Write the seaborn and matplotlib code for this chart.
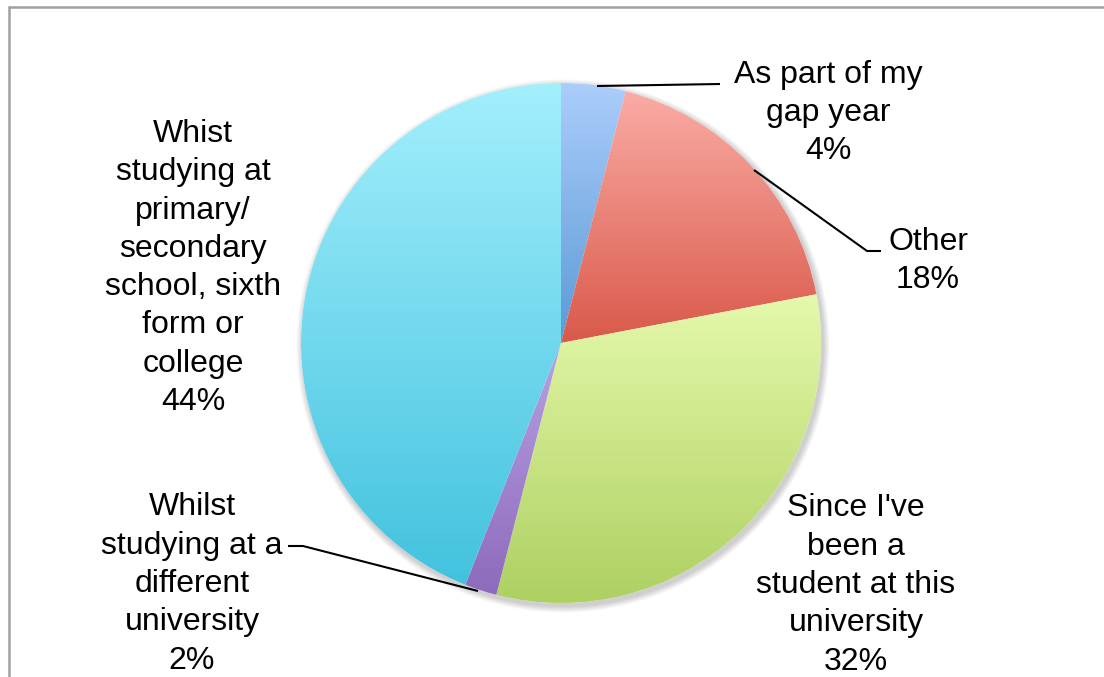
import numpy as np
import matplotlib
matplotlib.use("Agg")
import matplotlib.pyplot as plt
from matplotlib.colors import ListedColormap
from matplotlib.lines import Line2D
from matplotlib.patches import Circle
import seaborn as sns

# Survey answers: when respondents started
categories = [
    "As part of my\ngap year",
    "Other",
    "Since I've\nbeen a\nstudent at this\nuniversity",
    "Whilst\nstudying at a\ndifferent\nuniversity",
    "Whist\nstudying at\nprimary/\nsecondary\nschool, sixth\nform or\ncollege",
]
shares = [4, 18, 32, 2, 44]

# light (top) -> dark (bottom) fill per slice
top_colors = ["#abcdfb", "#faaca5", "#e5f9ab", "#b7a2e2", "#a3effc"]
bottom_colors = ["#5b9ad6", "#d9594a", "#aed062", "#8d6abd", "#42c2df"]

W, H = 1104, 677
sns.set_theme(style="white")
plt.rcParams["font.family"] = ["Liberation Sans", "DejaVu Sans"]

fig = plt.figure(figsize=(W / 100, H / 100), dpi=100)
ax = fig.add_axes([0, 0, 1, 1])
ax.set_xlim(0, W)
ax.set_ylim(0, H)
ax.set_aspect("equal")
ax.axis("off")

cx, cy, r = 561, H - 343, 260

# soft shadow beneath the pie
for k in range(8):
    ax.add_patch(Circle((cx + 2, cy - 3), r + 1 + k * 0.8, color="black",
                        alpha=0.025, lw=0, zorder=1))
ax.add_patch(Circle((cx, cy), r, color="white", lw=0, zorder=1.5))

wedges, _ = ax.pie(shares, startangle=90, counterclock=False, center=(cx, cy),
                   radius=r, wedgeprops=dict(linewidth=0, zorder=2))
ax.set_xlim(0, W)
ax.set_ylim(0, H)

for w, c0, c1 in zip(wedges, top_colors, bottom_colors):
    th = np.radians(np.linspace(w.theta1, w.theta2, 200))
    xs = np.concatenate([[cx], cx + r * np.cos(th)])
    ys = np.concatenate([[cy], cy + r * np.sin(th)])
    cmap = ListedColormap(sns.blend_palette([c1, c0], 256))
    grad = np.linspace(0, 1, 256).reshape(-1, 1)
    im = ax.imshow(grad, cmap=cmap, origin="lower", aspect="auto",
                   extent=(xs.min(), xs.max(), ys.min(), ys.max()), zorder=3)
    im.set_clip_path(w)
    w.set_facecolor("none")

# labels (pixel positions measured from the top)
fs = 23
pct = [f"{v}%" for v in shares]
label_pos = [(828, 113), (928, 261), (856, 585), (192, 584), (193, 268)]
for name, p, (x, y) in zip(categories, pct, label_pos):
    ax.text(x, H - y, f"{name}\n{p}", ha="center", va="center", fontsize=fs,
            linespacing=1.36, color="black", zorder=5)

# leader lines
leaders = [
    [(597, 86), (720, 84)],
    [(754, 170), (867, 251), (881, 251)],
    [(478, 591), (303, 546), (288, 546)],
]
for pts in leaders:
    xs, ys = zip(*pts)
    ax.plot(xs, [H - v for v in ys], color="black", lw=1.5, zorder=4,
            solid_capstyle="butt")

# outer frame edges
fig.add_artist(Line2D([9 / W, 1], [1 - 7 / H, 1 - 7 / H], color="#a0a0a0", lw=1.8))
fig.add_artist(Line2D([9 / W, 9 / W], [0, 1 - 7 / H], color="#a0a0a0", lw=1.8))

fig.savefig("out.png", dpi=100, facecolor="white")
